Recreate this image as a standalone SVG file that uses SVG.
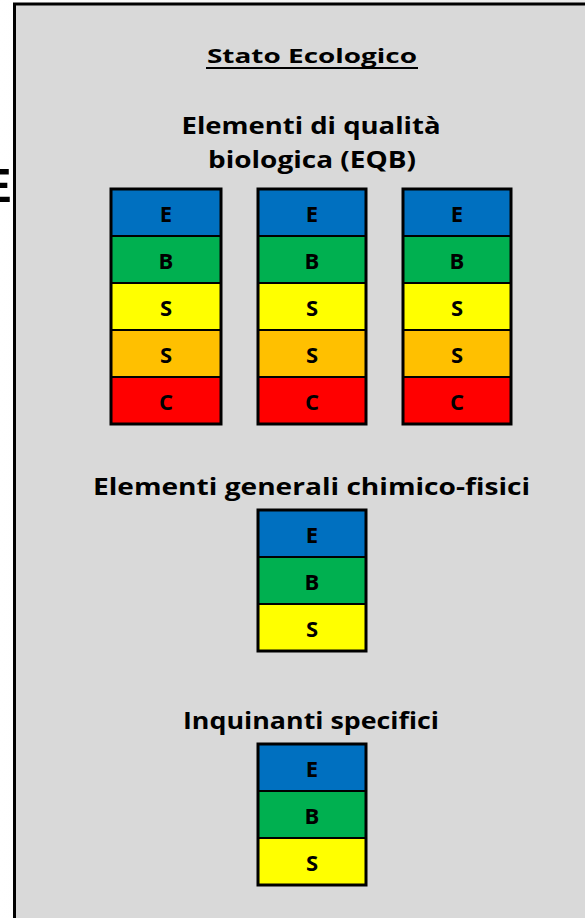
<svg xmlns="http://www.w3.org/2000/svg" width="585" height="918" viewBox="0 0 585 918">
<defs>
<linearGradient id="bg" x1="0" y1="0" x2="1" y2="0">
<stop offset="0" stop-color="#ffffff"/>
<stop offset="1" stop-color="#ebebeb"/>
</linearGradient>
</defs>
<style>
.h{font-family:"Open Sans","Noto Sans",sans-serif;font-weight:700;font-size:23px;fill:#000;text-anchor:middle}
.t{font-family:"Open Sans","Noto Sans",sans-serif;font-weight:700;font-size:19px;fill:#000;text-anchor:middle}
.c{font-family:"Open Sans","Noto Sans",sans-serif;font-weight:700;font-size:22px;fill:#000;text-anchor:middle}
.cell{stroke:#000;stroke-width:2}
.frame{fill:none;stroke:#000;stroke-width:3}
.e{fill:#0070c0}.b{fill:#00b050}.s{fill:#ffff00}.o{fill:#ffc000}.r{fill:#ff0000}
</style>
<rect x="0" y="0" width="585" height="918" fill="url(#bg)"/>
<text x="-21" y="202" font-family="Liberation Sans,Arial,sans-serif" font-weight="700" font-size="49" fill="#000">E</text>
<rect id="panel" x="14.5" y="4" width="600" height="930" fill="#d9d9d9" stroke="#000" stroke-width="3"/>
<g id="title">
<text class="t" x="312" y="63" textLength="210" lengthAdjust="spacingAndGlyphs">Stato Ecologico</text>
<line x1="206" y1="68" x2="418" y2="68" stroke="#000" stroke-width="2"/>
</g>
<g id="eqb-label">
<text class="h" x="311" y="134" textLength="259" lengthAdjust="spacingAndGlyphs">Elementi di qualità</text>
<text class="h" x="312" y="168" textLength="208" lengthAdjust="spacingAndGlyphs">biologica (EQB)</text>
</g>
<g id="eqb1">
<rect class="cell e" x="111" y="189" width="110" height="47"/><text class="c" x="166" y="222">E</text>
<rect class="cell b" x="111" y="236" width="110" height="47"/><text class="c" x="166" y="269">B</text>
<rect class="cell s" x="111" y="283" width="110" height="47"/><text class="c" x="166" y="316">S</text>
<rect class="cell o" x="111" y="330" width="110" height="47"/><text class="c" x="166" y="363">S</text>
<rect class="cell r" x="111" y="377" width="110" height="47"/><text class="c" x="166" y="410">C</text>
<rect class="frame" x="111" y="189" width="110" height="235"/>
</g>
<g id="eqb2">
<rect class="cell e" x="258" y="189" width="108" height="47"/><text class="c" x="312" y="222">E</text>
<rect class="cell b" x="258" y="236" width="108" height="47"/><text class="c" x="312" y="269">B</text>
<rect class="cell s" x="258" y="283" width="108" height="47"/><text class="c" x="312" y="316">S</text>
<rect class="cell o" x="258" y="330" width="108" height="47"/><text class="c" x="312" y="363">S</text>
<rect class="cell r" x="258" y="377" width="108" height="47"/><text class="c" x="312" y="410">C</text>
<rect class="frame" x="258" y="189" width="108" height="235"/>
</g>
<g id="eqb3">
<rect class="cell e" x="403" y="189" width="108" height="47"/><text class="c" x="457" y="222">E</text>
<rect class="cell b" x="403" y="236" width="108" height="47"/><text class="c" x="457" y="269">B</text>
<rect class="cell s" x="403" y="283" width="108" height="47"/><text class="c" x="457" y="316">S</text>
<rect class="cell o" x="403" y="330" width="108" height="47"/><text class="c" x="457" y="363">S</text>
<rect class="cell r" x="403" y="377" width="108" height="47"/><text class="c" x="457" y="410">C</text>
<rect class="frame" x="403" y="189" width="108" height="235"/>
</g>
<g id="chim-label">
<text class="h" x="311.5" y="495" textLength="437" lengthAdjust="spacingAndGlyphs">Elementi generali chimico-fisici</text>
</g>
<g id="chim">
<rect class="cell e" x="258" y="510" width="108" height="47"/><text class="c" x="312" y="543">E</text>
<rect class="cell b" x="258" y="557" width="108" height="47"/><text class="c" x="312" y="590">B</text>
<rect class="cell s" x="258" y="604" width="108" height="47"/><text class="c" x="312" y="637">S</text>
<rect class="frame" x="258" y="510" width="108" height="141"/>
</g>
<g id="inq-label">
<text class="h" x="311" y="729" textLength="256" lengthAdjust="spacingAndGlyphs">Inquinanti specifici</text>
</g>
<g id="inq">
<rect class="cell e" x="258" y="744" width="108" height="47"/><text class="c" x="312" y="777">E</text>
<rect class="cell b" x="258" y="791" width="108" height="47"/><text class="c" x="312" y="824">B</text>
<rect class="cell s" x="258" y="838" width="108" height="47"/><text class="c" x="312" y="871">S</text>
<rect class="frame" x="258" y="744" width="108" height="141"/>
</g>
</svg>
